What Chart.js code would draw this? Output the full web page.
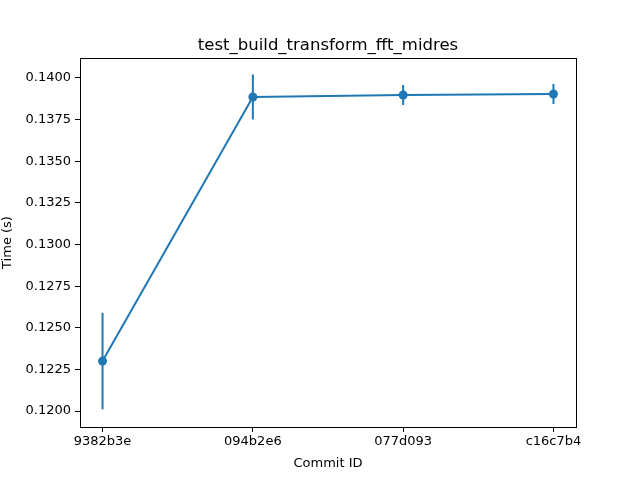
<!DOCTYPE html>
<html>
<head>
<meta charset="utf-8">
<script src="https://cdn.jsdelivr.net/npm/chart.js@4"></script>
<style>
  html, body { margin: 0; padding: 0; background: #fff; }
  #wrap { width: 640px; height: 480px; }
</style>
</head>
<body>
<div id="wrap"><canvas id="benchChart" width="640" height="480"></canvas></div>
<script>
const commits = ['9382b3e', '094b2e6', '077d093', 'c16c7b4'];
const times = [0.1230, 0.13886, 0.13898, 0.13904];
const errors = [0.0029, 0.00135, 0.0006, 0.0006];
const yTicks = [0.1200, 0.1225, 0.1250, 0.1275, 0.1300, 0.1325, 0.1350, 0.1375, 0.1400];
const chartTitle = 'test_build_transform_fft_midres';

const lineColor = '#1f77b4';

const errorBars = {
    id: 'errorBars',
    beforeDatasetsDraw(chart) {
        const ctx = chart.ctx;
        const xs = chart.scales.x;
        const ys = chart.scales.y;
        ctx.save();
        ctx.strokeStyle = lineColor;
        ctx.lineWidth = 2;
        times.forEach(function (t, i) {
            const px = xs.getPixelForValue(i);
            ctx.beginPath();
            ctx.moveTo(px, ys.getPixelForValue(t - errors[i]));
            ctx.lineTo(px, ys.getPixelForValue(t + errors[i]));
            ctx.stroke();
        });
        ctx.restore();
    }
};

// matplotlib centres the title over the axes, not the canvas
const frameAndTitle = {
    id: 'frameAndTitle',
    afterDraw(chart) {
        const a = chart.chartArea;
        const ctx = chart.ctx;
        ctx.save();
        ctx.strokeStyle = '#000';
        ctx.lineWidth = 1;
        ctx.strokeRect(Math.round(a.left) + 0.5, Math.round(a.top) + 0.5,
            Math.round(a.right - a.left), Math.round(a.bottom - a.top));
        ctx.fillStyle = '#000';
        ctx.font = '16.5px "DejaVu Sans", sans-serif';
        ctx.textAlign = 'center';
        ctx.textBaseline = 'alphabetic';
        ctx.fillText(chartTitle, (a.left + a.right) / 2, a.top - 8);
        ctx.restore();
    }
};

Chart.defaults.font.family = '"DejaVu Sans", sans-serif';
Chart.defaults.color = '#000';

const ctx = document.getElementById('benchChart').getContext('2d');
const benchChart = new Chart(ctx, {
    type: 'line',
    data: {
        datasets: [{
            data: times.map((t, i) => ({ x: i, y: t })),
            borderColor: lineColor,
            backgroundColor: lineColor,
            borderWidth: 2,
            pointRadius: 4.5,
            pointHoverRadius: 4.5,
            pointBorderWidth: 0,
            tension: 0,
            fill: false
        }]
    },
    plugins: [errorBars, frameAndTitle],
    options: {
        responsive: false,
        animation: false,
        events: [],
        layout: { padding: { top: 58, right: 64, bottom: 9, left: 0 } },
        plugins: {
            legend: { display: false },
            tooltip: { enabled: false },
            title: { display: false }
        },
        scales: {
            x: {
                type: 'linear',
                min: -0.15,
                max: 3.15,
                afterBuildTicks(axis) {
                    axis.ticks = commits.map((c, i) => ({ value: i }));
                },
                afterFit(axis) { axis.height = 44; },
                ticks: {
                    callback: (v) => commits[v],
                    font: { size: 13 },
                    padding: 2,
                    maxRotation: 0
                },
                grid: {
                    drawOnChartArea: false,
                    tickLength: 5,
                    tickColor: '#000',
                    tickWidth: 1
                },
                border: { color: '#000', width: 1 },
                title: {
                    display: true,
                    text: 'Commit ID',
                    font: { size: 13 },
                    padding: { top: 2, bottom: 0 }
                }
            },
            y: {
                min: 0.11904,
                max: 0.1412,
                afterBuildTicks(axis) {
                    axis.ticks = yTicks.map(v => ({ value: v }));
                },
                afterFit(axis) { axis.width = 80; },
                ticks: {
                    callback: (v) => v.toFixed(4),
                    font: { size: 13 },
                    padding: 4
                },
                grid: {
                    drawOnChartArea: false,
                    tickLength: 5,
                    tickColor: '#000',
                    tickWidth: 1
                },
                border: { color: '#000', width: 1 },
                title: {
                    display: true,
                    text: 'Time (s)',
                    font: { size: 13 },
                    padding: { top: 0, bottom: 4 }
                }
            }
        }
    }
});
</script>
</body>
</html>
